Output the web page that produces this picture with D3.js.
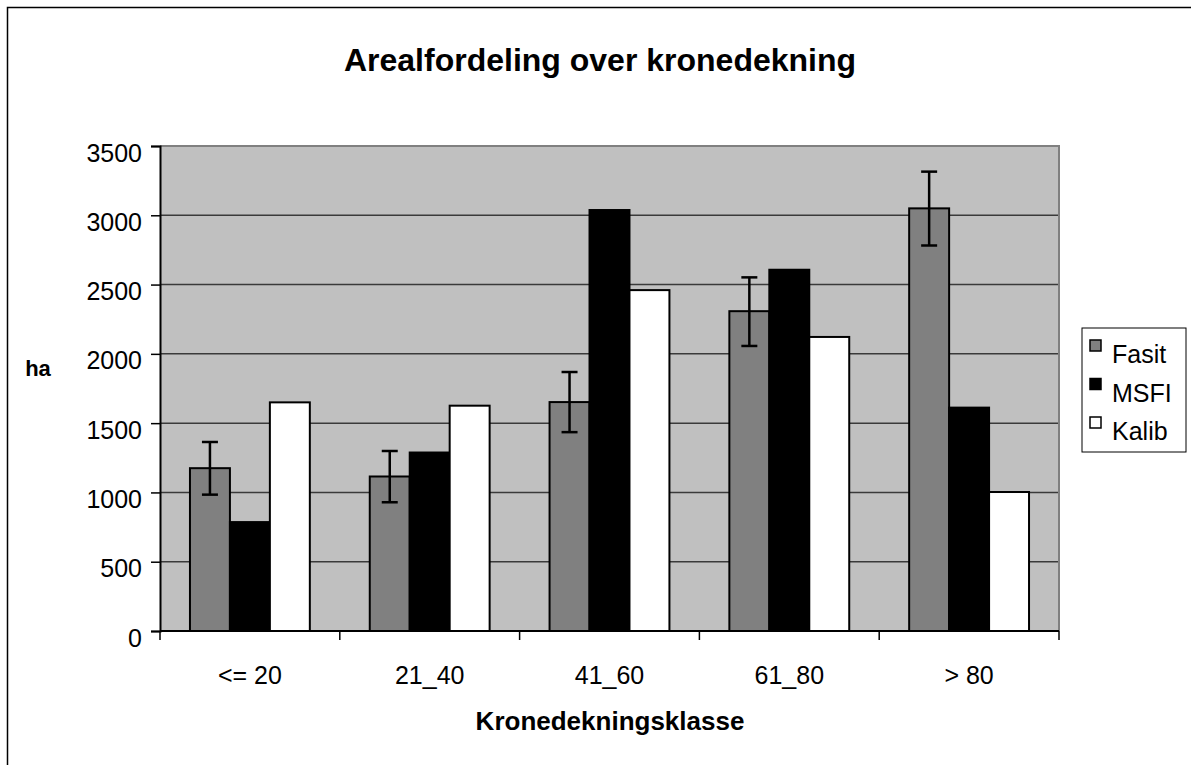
<!DOCTYPE html>
<html>
<head>
<meta charset="utf-8">
<script src="https://cdn.jsdelivr.net/npm/d3@7"></script>
<style>
  body { margin: 0; background: #fff; }
  text { font-family: Arial, "Liberation Sans", sans-serif; }
</style>
</head>
<body>
<div id="chart"></div>
<script>
// Data
const categories = ["<= 20", "21_40", "41_60", "61_80", "> 80"];
const seriesNames = ["Fasit", "MSFI", "Kalib"];
const fasit = [1175, 1115, 1652, 2308, 3050];
const msfi = [786, 1288, 3038, 2607, 1612];
const kalib = [1650, 1626, 2460, 2122, 1003];
const fasitLow = [984, 929, 1435, 2057, 2782];
const fasitHigh = [1364, 1299, 1869, 2552, 3315];
const yTicks = [0, 500, 1000, 1500, 2000, 2500, 3000, 3500];
const colors = ["#808080", "#000000", "#ffffff"];

const width = 1191;
const height = 765;
const plot = { left: 160, top: 146, right: 1059, bottom: 631 };

const svg = d3.select("#chart")
  .append("svg")
  .attr("width", width)
  .attr("height", height);

// Outer chart border (right/bottom fall outside the picture)
svg.append("rect")
  .attr("x", 7.5).attr("y", 7.5)
  .attr("width", 1200).attr("height", 800)
  .attr("fill", "#fff")
  .attr("stroke", "#000")
  .attr("stroke-width", 1.5);

// Scales
const x0 = d3.scaleBand()
  .domain(categories)
  .range([plot.left, plot.right])
  .padding(0);

const x1 = d3.scaleBand()
  .domain(seriesNames)
  .range([x0.bandwidth() / 6, x0.bandwidth() * 5 / 6])
  .padding(0);

const y = d3.scaleLinear()
  .domain([0, 3500])
  .range([plot.bottom, plot.top]);

// Plot background
svg.append("rect")
  .attr("x", plot.left).attr("y", plot.top)
  .attr("width", plot.right - plot.left)
  .attr("height", plot.bottom - plot.top)
  .attr("fill", "#c0c0c0");

// Gridlines
svg.append("g")
  .selectAll("line")
  .data(yTicks.filter(d => d > 0 && d < 3500))
  .enter().append("line")
  .attr("x1", plot.left).attr("x2", plot.right)
  .attr("y1", d => y(d)).attr("y2", d => y(d))
  .attr("stroke", "#3a3a3a")
  .attr("stroke-width", 1.5);

// Plot border top and right
svg.append("path")
  .attr("d", `M${plot.left},${plot.top}H${plot.right}V${plot.bottom}`)
  .attr("fill", "none")
  .attr("stroke", "#808080")
  .attr("stroke-width", 2);

// Bars
const rows = categories.map((c, i) => ({ cat: c, vals: [fasit[i], msfi[i], kalib[i]] }));

const groups = svg.append("g")
  .selectAll("g")
  .data(rows)
  .enter().append("g")
  .attr("transform", d => `translate(${x0(d.cat)},0)`);

groups.selectAll("rect")
  .data(d => d.vals.map((v, j) => ({ name: seriesNames[j], v: v, j: j })))
  .enter().append("rect")
  .attr("x", d => x1(d.name))
  .attr("y", d => y(d.v))
  .attr("width", x1.bandwidth())
  .attr("height", d => y(0) - y(d.v))
  .attr("fill", d => colors[d.j])
  .attr("stroke", "#000")
  .attr("stroke-width", 2);

// Error bars on Fasit
const err = svg.append("g")
  .selectAll("g")
  .data(categories.map((c, i) => ({ cat: c, lo: fasitLow[i], hi: fasitHigh[i] })))
  .enter().append("g")
  .attr("stroke", "#000")
  .attr("stroke-width", 2.5);

const cx = d => x0(d.cat) + x1("Fasit") + x1.bandwidth() / 2;
err.append("line")
  .attr("x1", cx).attr("x2", cx)
  .attr("y1", d => y(d.lo)).attr("y2", d => y(d.hi));
err.append("line")
  .attr("x1", d => cx(d) - 8).attr("x2", d => cx(d) + 8)
  .attr("y1", d => y(d.hi)).attr("y2", d => y(d.hi));
err.append("line")
  .attr("x1", d => cx(d) - 8).attr("x2", d => cx(d) + 8)
  .attr("y1", d => y(d.lo)).attr("y2", d => y(d.lo));

// Y axis
const yAxis = svg.append("g")
  .attr("transform", `translate(${plot.left},0)`)
  .call(d3.axisLeft(y).tickValues(yTicks).tickFormat(d3.format("d")).tickSize(9).tickPadding(9));
yAxis.select(".domain").attr("stroke", "#000").attr("stroke-width", 2);
yAxis.selectAll(".tick line").attr("stroke", "#000").attr("stroke-width", 1.5);
yAxis.selectAll(".tick text")
  .attr("font-size", 25)
  .attr("font-family", "Arial, 'Liberation Sans', sans-serif")
  .attr("fill", "#000")
  .attr("dy", "0.6em");

// X axis: ticks at category boundaries
const xAxisG = svg.append("g");
xAxisG.append("line")
  .attr("x1", plot.left).attr("x2", plot.right)
  .attr("y1", plot.bottom).attr("y2", plot.bottom)
  .attr("stroke", "#000").attr("stroke-width", 2);
xAxisG.selectAll(".xt")
  .data(categories.concat(["end"]))
  .enter().append("line")
  .attr("x1", (d, i) => i < categories.length ? x0(d) : plot.right)
  .attr("x2", (d, i) => i < categories.length ? x0(d) : plot.right)
  .attr("y1", plot.bottom).attr("y2", plot.bottom + 9)
  .attr("stroke", "#000").attr("stroke-width", 1.5);
xAxisG.selectAll(".xl")
  .data(categories)
  .enter().append("text")
  .attr("x", d => x0(d) + x0.bandwidth() / 2)
  .attr("y", 684)
  .attr("text-anchor", "middle")
  .attr("font-size", 25)
  .text(d => d);

// Titles
svg.append("text")
  .attr("x", 600).attr("y", 71)
  .attr("text-anchor", "middle")
  .attr("font-size", 32)
  .attr("font-weight", "bold")
  .text("Arealfordeling over kronedekning");

svg.append("text")
  .attr("x", 610).attr("y", 730)
  .attr("text-anchor", "middle")
  .attr("font-size", 26)
  .attr("font-weight", "bold")
  .text("Kronedekningsklasse");

svg.append("text")
  .attr("x", 38).attr("y", 376)
  .attr("text-anchor", "middle")
  .attr("font-size", 22)
  .attr("font-weight", "bold")
  .text("ha");

// Legend
const legend = svg.append("g").attr("transform", "translate(1082,328)");
legend.append("rect")
  .attr("width", 104).attr("height", 124)
  .attr("fill", "#fff")
  .attr("stroke", "#000")
  .attr("stroke-width", 1);
const item = legend.selectAll(".item")
  .data(seriesNames)
  .enter().append("g")
  .attr("transform", (d, i) => `translate(8,${12 + i * 38.5})`);
item.append("rect")
  .attr("width", 11).attr("height", 11)
  .attr("fill", (d, i) => colors[i])
  .attr("stroke", "#000")
  .attr("stroke-width", 1.5);
item.append("text")
  .attr("x", 22).attr("y", 23)
  .attr("font-size", 25)
  .text(d => d);
</script>
</body>
</html>
